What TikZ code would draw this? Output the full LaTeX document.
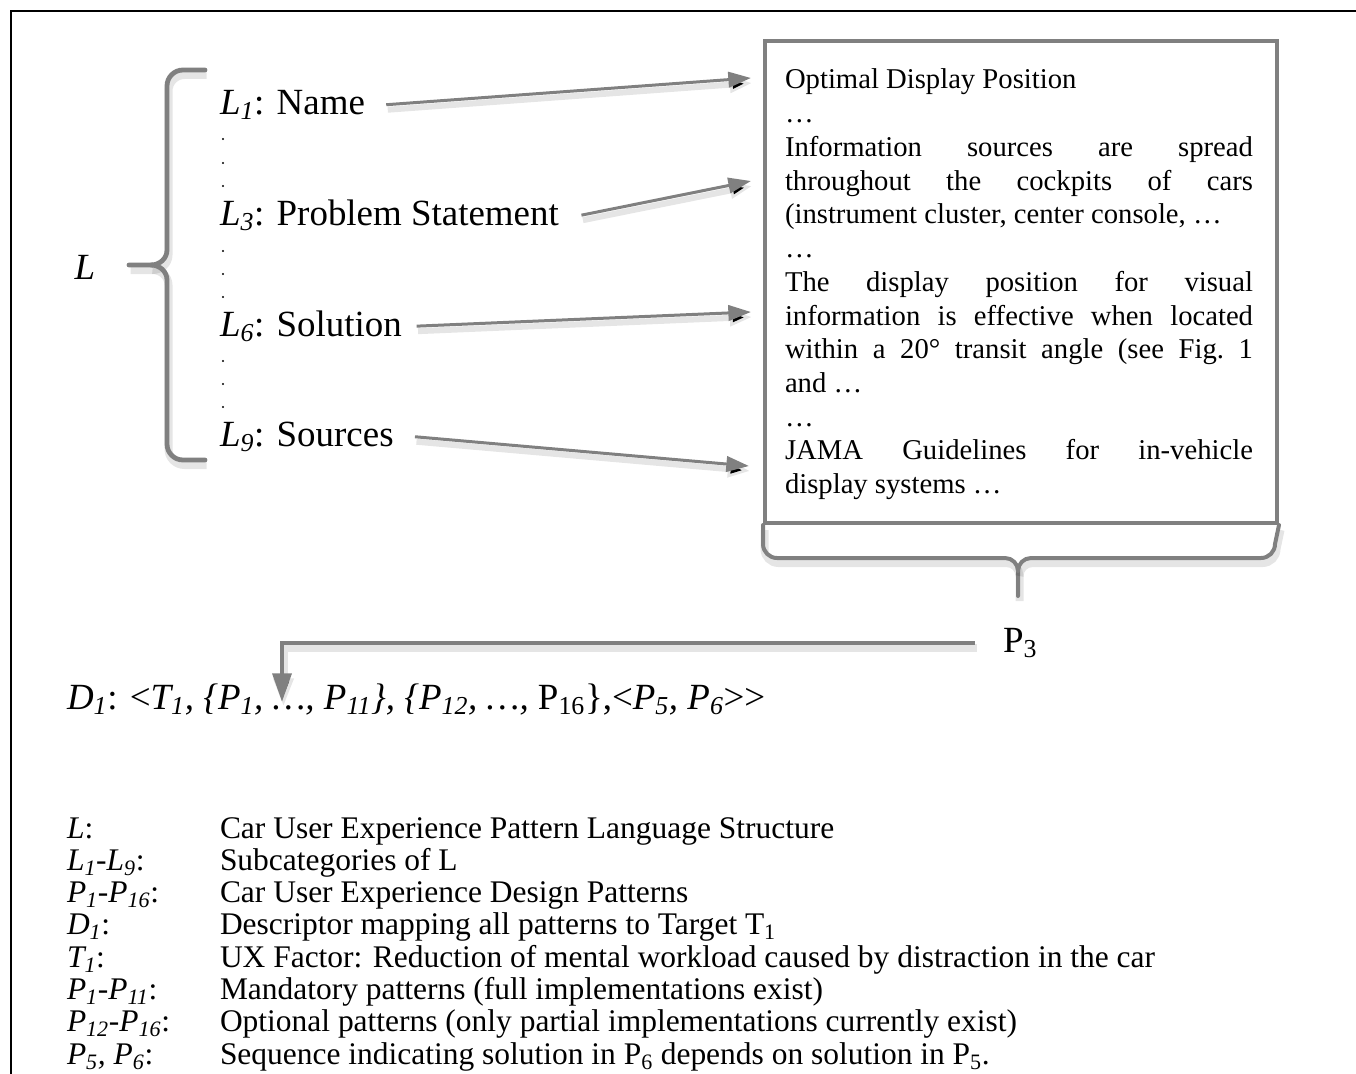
\documentclass[tikz,border=0pt]{standalone}
\usepackage{fontspec}
\setmainfont{Liberation Serif}
\usetikzlibrary{arrows.meta}
\definecolor{linegray}{RGB}{128,128,128}
\newlength\colw
\setlength\colw{351pt}
% one justified line across the text column: words separated by /
\ExplSyntaxOn
\NewDocumentCommand\jline{m}{
  \seq_set_split:Nnn \l_tmpa_seq {/} {#1}
  \hbox to \colw {\seq_use:Nn \l_tmpa_seq {\hfill}}
}
\ExplSyntaxOff
\newcommand\bigfont{\fontsize{27.7}{33}\selectfont}
\newcommand\boxfont{\fontsize{21.5}{25.3}\selectfont}
\newcommand\legfont{\fontsize{23.6}{24.2}\selectfont}
\begin{document}
\begin{tikzpicture}[x=0.75pt,y=-0.75pt,
  txt/.style={inner sep=0pt,outer sep=0pt},
  lab/.style={txt,font=\bigfont},
  leg/.style={txt,font=\legfont,anchor=base west},
  softshadow/.style={preaction={draw=black,draw opacity=0.10,line width=#1,
      transform canvas={shift={(1.5,5)}}}},
  conn/.style={draw=linegray,line width=2.25pt,
      -{Triangle[length=17pt,width=11.5pt]},softshadow=4.5pt},
  elbow/.style={draw=linegray,line width=3.3pt,
      -{Triangle[length=21.5pt,width=14pt]},softshadow=6pt},
  bracket/.style={draw=linegray,line width=3.6pt,line cap=round,line join=round,softshadow=6pt},
  panel/.style={draw=linegray,line width=3pt,inner sep=0pt}]
\useasboundingbox (0,0) rectangle (1356,1074);

% outer frame (top and left edges)
\draw[line width=1.5pt] (11,1074) -- (11,11) -- (1356,11);

% structure L and its subcategories
\node[lab,anchor=base] (L) at (85,279) {\textit{L}};
\draw[bracket] (205,70) -- (183,70) to[out=180,in=90] (167,86) -- (167,250)
  to[out=-90,in=0] (151,265) -- (129,265);
\draw[bracket] (205,460) -- (183,460) to[out=180,in=-90] (167,444) -- (167,280)
  to[out=90,in=0] (151,265);

\node[lab,anchor=base west] (l1) at (220,114) {\textit{L\textsubscript{1}}: Name};
\node[lab,anchor=base west] (l3) at (220,225) {\textit{L\textsubscript{3}}: Problem Statement};
\node[lab,anchor=base west] (l6) at (220,336) {\textit{L\textsubscript{6}}: Solution};
\node[lab,anchor=base west] (l9) at (220,446) {\textit{L\textsubscript{9}}: Sources};

\foreach \y in {139,163,186,251,274,297,361,384,407}
  \fill (223,\y) circle[radius=0.9pt];

% pattern P3 with its excerpts
\node[panel,anchor=north west,minimum width=384pt,minimum height=361.5pt] (box) at (763,39) {};
\node[txt,anchor=north west,font=\boxfont] (boxtext) at (785,69) {%
\begin{minipage}[t]{\colw}
\noindent Optimal Display Position\\
…\\
\jline{Information/sources/are/spread}\\
\jline{throughout/the/cockpits/of/cars}\\
(instrument cluster, center console, …\\
…\\
\jline{The/display/position/for/visual}\\
\jline{information/is/effective/when/located}\\
\jline{within/a/20°/transit/angle/(see/Fig./1}\\
and …\\
…\\
\jline{JAMA/Guidelines/for/in-vehicle}\\
display systems …
\end{minipage}};

\coordinate (e1) at (751,78);
\coordinate (e3) at (751,181);
\coordinate (e6) at (751,312);
\coordinate (e9) at (749,466);
\draw[conn] ([xshift=16pt]l1.east) -- (e1);
\draw[conn] ([xshift=17pt]l3.east) -- (e3);
\draw[conn] ([xshift=11pt]l6.east) -- (e6);
\draw[conn] ([xshift=16pt]l9.east) -- (e9);

% brace gathering the box into P3
\draw[bracket,line width=3pt] (box.south west) -- (763,544) to[out=-90,in=180] (777,558)
  -- (1005,558) to[out=0,in=90] (1018,571) -- (1018,596);
\draw[bracket,line width=3pt] (box.south east) -- (1275,544) to[out=-90,in=0] (1261,558)
  -- (1031,558) to[out=180,in=90] (1018,571);

\node[lab,anchor=base west] (p3) at (1003,652) {P\textsubscript{3}};

% descriptor
\node[lab,anchor=base west] (d1) at (67,709) {\textit{D\textsubscript{1}}: <\textit{T\textsubscript{1}, \{P\textsubscript{1}, …, P\textsubscript{11}\}, \{P\textsubscript{12}, …, }P\textsubscript{16}\},<\textit{P\textsubscript{5}, P\textsubscript{6}}>{}>};

\coordinate (dtip) at (282,702);
\draw[elbow] ([xshift=-21pt]p3.west) -| (dtip);

% legend
\node[leg] (k1) at (67,838) {\textit{L}:};
\node[leg] (v1) at (220,838) {Car User Experience Pattern Language Structure};
\node[leg] (k2) at (67,870.3) {\textit{L\textsubscript{1}-L\textsubscript{9}}:};
\node[leg] (v2) at (220,870.3) {Subcategories of L};
\node[leg] (k3) at (67,902.6) {\textit{P\textsubscript{1}-P\textsubscript{16}}:};
\node[leg] (v3) at (220,902.6) {Car User Experience Design Patterns};
\node[leg] (k4) at (67,934.9) {\textit{D\textsubscript{1}}:};
\node[leg] (v4) at (220,934.9) {Descriptor mapping all patterns to Target T\textsubscript{1}};
\node[leg] (k5) at (67,967.2) {\textit{T\textsubscript{1}}:};
\node[leg] (v5) at (220,967.2) {UX Factor: Reduction of mental workload caused by distraction in the car};
\node[leg] (k6) at (67,999.5) {\textit{P\textsubscript{1}-P\textsubscript{11}}:};
\node[leg] (v6) at (220,999.5) {Mandatory patterns (full implementations exist)};
\node[leg] (k7) at (67,1031.8) {\textit{P\textsubscript{12}-P\textsubscript{16}}:};
\node[leg] (v7) at (220,1031.8) {Optional patterns (only partial implementations currently exist)};
\node[leg] (k8) at (67,1064.1) {\textit{P\textsubscript{5}, P\textsubscript{6}}:};
\node[leg] (v8) at (220,1064.1) {Sequence indicating solution in P\textsubscript{6} depends on solution in P\textsubscript{5}.};
\end{tikzpicture}
\end{document}
